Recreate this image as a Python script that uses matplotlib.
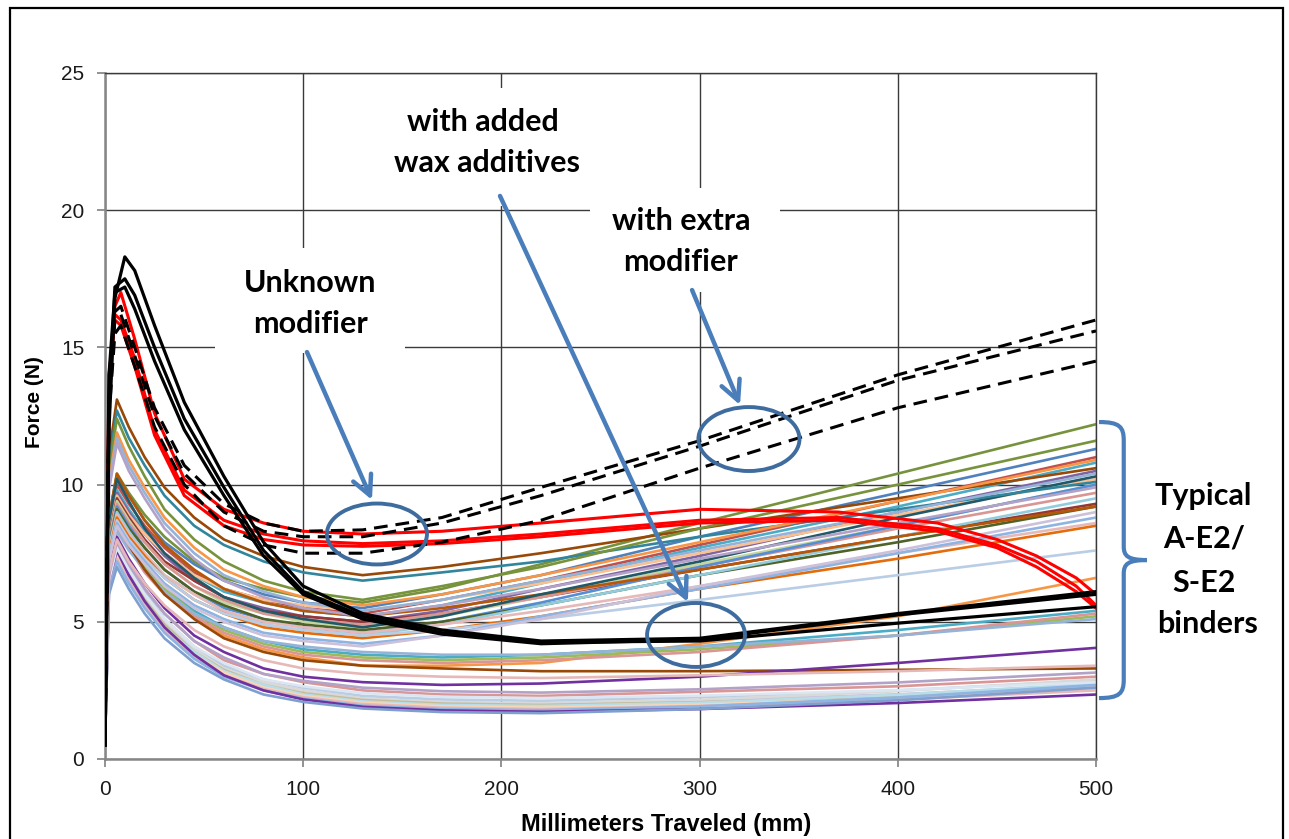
import matplotlib
matplotlib.use("Agg")
import matplotlib.pyplot as plt
from matplotlib.patches import Ellipse, Rectangle, FancyArrowPatch, PathPatch
from matplotlib.path import Path

# ---------------------------------------------------------------- data
# Force (N) versus distance travelled (mm) for each binder in the ductility test
distance_mm = [0, 2, 6, 12, 20, 30, 45, 60, 80, 100, 130, 170, 220, 300, 400, 500]

upper_binders = [
    [0.5, 11.1, 13.1, 12.1, 11.0, 9.9, 8.8, 8.0, 7.4, 7.0, 6.7, 7.0, 7.5, 8.4, 9.5, 10.6],
    [0.5, 10.8, 12.7, 11.7, 10.7, 9.6, 8.5, 7.8, 7.2, 6.8, 6.5, 6.8, 7.2, 8.1, 9.1, 10.1],
    [0.5, 10.5, 12.4, 11.4, 10.3, 9.1, 8.0, 7.2, 6.5, 6.1, 5.8, 6.3, 7.0, 8.4, 10.0, 11.6],
    [0.5, 10.1, 11.9, 10.9, 9.9, 8.8, 7.7, 6.9, 6.3, 5.9, 5.6, 6.0, 6.7, 7.9, 9.4, 10.9],
    [0.5, 9.9, 11.7, 10.7, 9.7, 8.6, 7.5, 6.7, 6.1, 5.7, 5.4, 5.8, 6.5, 7.6, 9.0, 10.4],
    [0.5, 9.8, 11.5, 10.5, 9.5, 8.4, 7.3, 6.5, 5.9, 5.5, 5.2, 5.6, 6.2, 7.3, 8.6, 9.9],
]

middle_binders = [
    [0.5, 8.8, 10.4, 9.7, 8.9, 8.1, 7.2, 6.6, 6.2, 5.9, 5.7, 6.2, 7.1, 8.6, 10.4, 12.2],
    [0.5, 8.8, 10.3, 9.6, 8.7, 7.9, 7.1, 6.5, 6.0, 5.7, 5.5, 6.0, 6.7, 8.1, 9.7, 11.3],
    [0.5, 8.5, 10.0, 9.3, 8.5, 7.7, 6.8, 6.2, 5.8, 5.5, 5.3, 5.8, 6.5, 7.8, 9.4, 11.0],
    [0.5, 8.3, 9.8, 9.1, 8.3, 7.5, 6.7, 6.1, 5.7, 5.4, 5.2, 5.6, 6.4, 7.7, 9.2, 10.8],
    [0.5, 8.2, 9.7, 9.0, 8.2, 7.4, 6.5, 5.9, 5.5, 5.2, 5.0, 5.4, 6.2, 7.4, 9.0, 10.5],
    [0.5, 8.2, 9.6, 8.9, 8.2, 7.5, 6.7, 6.2, 5.8, 5.6, 5.4, 5.8, 6.4, 7.5, 8.9, 10.2],
    [0.5, 8.1, 9.5, 8.8, 8.0, 7.2, 6.5, 5.9, 5.4, 5.2, 5.0, 5.3, 5.9, 6.9, 8.1, 9.3],
    [0.5, 8.0, 9.4, 8.7, 7.9, 7.1, 6.3, 5.7, 5.3, 5.0, 4.8, 5.2, 5.9, 7.1, 8.5, 10.0],
    [0.5, 7.9, 9.3, 8.6, 7.9, 7.1, 6.3, 5.8, 5.3, 5.1, 4.9, 5.3, 5.9, 7.0, 8.4, 9.7],
    [0.5, 7.8, 9.2, 8.5, 7.7, 6.9, 6.1, 5.5, 5.1, 4.8, 4.6, 5.0, 5.7, 7.0, 8.5, 10.0],
    [0.5, 7.7, 9.1, 8.4, 7.7, 6.9, 6.1, 5.6, 5.1, 4.9, 4.7, 5.0, 5.6, 6.7, 7.9, 9.2],
    [0.5, 7.7, 9.0, 8.3, 7.5, 6.7, 6.0, 5.4, 4.9, 4.7, 4.5, 4.9, 5.6, 6.7, 8.1, 9.5],
    [0.5, 7.6, 8.9, 8.2, 7.5, 6.7, 6.0, 5.4, 5.0, 4.8, 4.6, 4.9, 5.4, 6.3, 7.5, 8.6],
    [0.5, 7.5, 8.8, 8.1, 7.4, 6.6, 5.8, 5.3, 4.8, 4.6, 4.4, 4.7, 5.2, 6.2, 7.3, 8.5],
    [0.5, 7.4, 8.7, 8.0, 7.3, 6.6, 5.8, 5.3, 4.9, 4.7, 4.5, 4.7, 5.1, 5.8, 6.7, 7.6],
    [0.5, 7.3, 8.6, 7.9, 7.2, 6.4, 5.6, 5.1, 4.6, 4.4, 4.2, 4.5, 5.2, 6.2, 7.5, 8.8],
    [0.5, 7.2, 8.5, 7.8, 7.1, 6.3, 5.5, 5.0, 4.5, 4.3, 4.1, 4.5, 5.1, 6.3, 7.6, 9.0],
    [0.5, 8.8, 10.4, 9.6, 8.7, 7.8, 6.9, 6.2, 5.7, 5.4, 5.2, 5.5, 6.0, 6.9, 8.1, 9.2],
    [0.5, 8.7, 10.2, 9.4, 8.4, 7.5, 6.6, 5.9, 5.4, 5.1, 4.8, 5.2, 6.0, 7.2, 8.8, 10.3],
]

lower_mid_binders = [
    [0.5, 7.7, 9.0, 8.1, 7.2, 6.2, 5.2, 4.5, 4.0, 3.7, 3.4, 3.4, 3.5, 4.2, 5.2, 6.6],
    [0.5, 7.5, 8.8, 8.0, 7.2, 6.3, 5.4, 4.8, 4.3, 4.0, 3.8, 3.7, 3.8, 4.1, 4.7, 5.4],
    [0.5, 7.3, 8.6, 7.8, 7.0, 6.2, 5.3, 4.7, 4.2, 3.9, 3.7, 3.6, 3.7, 4.0, 4.5, 5.2],
    [0.5, 7.1, 8.4, 7.7, 6.8, 6.0, 5.2, 4.6, 4.1, 3.8, 3.6, 3.5, 3.6, 3.9, 4.5, 5.3],
    [0.5, 7.1, 8.3, 7.6, 6.9, 6.1, 5.3, 4.8, 4.3, 4.1, 3.9, 3.8, 3.8, 4.1, 4.5, 5.1],
    [0.5, 7.3, 8.6, 7.8, 6.9, 6.0, 5.1, 4.4, 3.9, 3.6, 3.4, 3.3, 3.2, 3.2, 3.25, 3.3],
    [0.5, 6.9, 8.1, 7.3, 6.4, 5.5, 4.5, 3.9, 3.3, 3.0, 2.8, 2.7, 2.75, 3.0, 3.5, 4.05],
    [0.5, 6.8, 8.0, 7.2, 6.4, 5.6, 4.7, 4.1, 3.6, 3.3, 3.1, 3.0, 2.95, 3.05, 3.2, 3.4],
]

low_binders = [
    [0.5, 6.8, 8.0, 7.2, 6.2, 5.3, 4.3, 3.6, 3.1, 2.8, 2.5, 2.35, 2.3, 2.45, 2.65, 3.0],
    [0.5, 6.7, 7.9, 7.0, 6.1, 5.1, 4.1, 3.4, 2.9, 2.6, 2.3, 2.17, 2.12, 2.25, 2.5, 2.85],
    [0.5, 6.6, 7.8, 6.9, 6.0, 5.0, 4.0, 3.3, 2.8, 2.5, 2.2, 2.07, 2.02, 2.13, 2.36, 2.7],
    [0.5, 6.5, 7.7, 6.8, 5.9, 5.0, 4.0, 3.3, 2.8, 2.5, 2.2, 2.07, 2.03, 2.16, 2.47, 2.9],
    [0.5, 6.5, 7.6, 6.75, 5.8, 4.9, 3.9, 3.25, 2.7, 2.4, 2.15, 2.02, 1.97, 2.07, 2.29, 2.6],
    [0.5, 6.4, 7.5, 6.7, 5.7, 4.8, 3.9, 3.2, 2.7, 2.35, 2.1, 1.97, 1.93, 2.05, 2.34, 2.75],
    [0.5, 6.4, 7.5, 6.65, 5.7, 4.8, 3.8, 3.15, 2.6, 2.3, 2.05, 1.92, 1.87, 1.98, 2.21, 2.55],
    [0.5, 6.2, 7.3, 6.5, 5.6, 4.7, 3.7, 3.05, 2.55, 2.25, 2.0, 1.87, 1.82, 1.93, 2.16, 2.5],
    [0.5, 6.1, 7.2, 6.4, 5.5, 4.6, 3.65, 3.0, 2.5, 2.2, 1.94, 1.82, 1.78, 1.92, 2.24, 2.7],
    [0.5, 6.5, 7.6, 6.7, 5.75, 4.8, 3.8, 3.05, 2.5, 2.17, 1.9, 1.77, 1.72, 1.82, 2.04, 2.35],
    [0.5, 6.0, 7.0, 6.2, 5.3, 4.4, 3.5, 2.9, 2.35, 2.08, 1.84, 1.71, 1.67, 1.82, 2.14, 2.6],
    [0.5, 6.5, 7.7, 6.9, 6.0, 5.1, 4.1, 3.5, 2.9, 2.65, 2.4, 2.27, 2.22, 2.31, 2.51, 2.8],
    [0.5, 6.7, 7.9, 7.1, 6.2, 5.3, 4.3, 3.7, 3.1, 2.85, 2.6, 2.47, 2.42, 2.54, 2.79, 3.15],
]

# binders with added wax additives (solid black)
wax_distance_mm = [0, 2, 5, 10, 15, 25, 40, 60, 80, 100, 130, 170, 220, 300, 400, 500]
wax_binders = [
    [0.5, 12.0, 16.8, 18.3, 17.8, 15.8, 13.0, 10.3, 7.9, 6.3, 5.3, 4.7, 4.3, 4.4, 5.3, 6.1],
    [0.5, 13.0, 17.2, 17.5, 16.9, 15.0, 12.4, 9.9, 7.6, 6.1, 5.2, 4.6, 4.25, 4.3, 4.95, 5.55],
    [0.5, 14.0, 17.0, 17.2, 16.4, 14.5, 12.0, 9.6, 7.4, 6.0, 5.1, 4.55, 4.2, 4.35, 5.25, 6.0],
]

# binders with an unknown modifier (red)
unknown_distance_mm = [0, 2, 5, 8, 15, 25, 40, 60, 80, 100, 130, 170, 220, 300,
                       370, 420, 450, 470, 490, 500]
unknown_binders = [
    [0.5, 13.0, 16.5, 17.0, 15.3, 12.6, 10.2, 9.1, 8.6, 8.3, 8.2, 8.3, 8.6, 9.1,
     9.0, 8.6, 8.0, 7.4, 6.6, 6.0],
    [0.5, 13.5, 16.2, 16.0, 14.6, 12.0, 9.8, 8.7, 8.2, 7.95, 7.85, 7.95, 8.2, 8.7,
     8.8, 8.4, 7.8, 7.2, 6.3, 5.6],
    [0.5, 14.0, 16.0, 15.8, 14.3, 11.8, 9.6, 8.5, 8.0, 7.8, 7.75, 7.85, 8.1, 8.6,
     8.7, 8.3, 7.7, 7.0, 6.1, 5.5],
]

# binders with an extra modifier (dashed black)
extra_distance_mm = [0, 2, 5, 8, 15, 25, 40, 60, 80, 100, 130, 170, 220, 300, 400, 500]
extra_binders = [
    [0.5, 13.0, 16.3, 16.5, 15.0, 12.8, 10.7, 9.3, 8.6, 8.3, 8.35, 8.8, 9.9, 11.6, 14.0, 16.0],
    [0.5, 13.0, 16.0, 16.2, 14.7, 12.5, 10.4, 9.0, 8.3, 8.1, 8.1, 8.6, 9.6, 11.4, 13.8, 15.6],
    [0.5, 12.5, 15.5, 15.8, 14.3, 12.1, 10.0, 8.5, 7.8, 7.5, 7.5, 7.9, 8.7, 10.6, 12.8, 14.5],
]

x_ticks = [0, 100, 200, 300, 400, 500]
y_ticks = [0, 5, 10, 15, 20, 25]

# ---------------------------------------------------------------- styles
upper_colors = ["#984807", "#31859C", "#77933C", "#F79646", "#95B3D7", "#B3A2C7"]
middle_colors = ["#76923C", "#4F81BD", "#C0504D", "#4BACC6", "#8064A2", "#FAC090",
                 "#953735", "#C3D69B", "#D99694", "#558ED5", "#4F6228", "#93CDDD",
                 "#E6B9B8", "#E46C0A", "#B9CDE5", "#8EB4E3", "#CCC1DA", "#B65708",
                 "#215968"]
lower_mid_colors = ["#F79646", "#4BACC6", "#9BBB59", "#D99694", "#95B3D7", "#984807",
                    "#7030A0", "#E6B9B8"]
low_colors = ["#D99694", "#B9CDE5", "#CCC1DA", "#D9D9D9", "#C4BD97", "#B7DEE8",
              "#FCD5B5", "#E6B9B8", "#8EB4E3", "#7030A0", "#7F9FCF", "#DCE6F2",
              "#B3A2C7"]

LABEL_FONT = ["Liberation Sans", "DejaVu Sans"]
NOTE_FONT = ["Lato", "DejaVu Sans"]
ARROW_BLUE = "#4A7EBB"
RING_BLUE = "#3F6C9E"
GRID = "#3A3A3A"

# ---------------------------------------------------------------- figure
fig = plt.figure(figsize=(12.89, 8.39), dpi=100)
ax = fig.add_axes([105 / 1289, 80 / 839, 991 / 1289, 686 / 839])

for group, colors in [(low_binders, low_colors),
                      (lower_mid_binders, lower_mid_colors),
                      (middle_binders, middle_colors),
                      (upper_binders, upper_colors)]:
    for force, color in zip(group, colors):
        ax.plot(distance_mm, force, color=color, lw=1.9, zorder=2,
                solid_joinstyle="round")

for force in unknown_binders:
    ax.plot(unknown_distance_mm, force, color="#FF0000", lw=2.2, zorder=3)
for force in extra_binders:
    ax.plot(extra_distance_mm, force, color="black", lw=2.2, zorder=3,
            dashes=(4.5, 2.6))
for force in wax_binders:
    ax.plot(wax_distance_mm, force, color="black", lw=2.3, zorder=3)

ax.set_xlim(0, 500)
ax.set_ylim(0, 25)
ax.set_xticks(x_ticks)
ax.set_yticks(y_ticks)
ax.set_axisbelow(True)
ax.grid(True, color=GRID, lw=1.0)
ax.tick_params(direction="out", length=6, width=1.2, color="#808080",
               labelsize=15, pad=9, labelcolor="#1A1A1A")
for lab in ax.get_xticklabels() + ax.get_yticklabels():
    lab.set_family(LABEL_FONT)
for side in ("left", "bottom"):
    ax.spines[side].set_color("#868686")
    ax.spines[side].set_linewidth(1.8)
for side in ("top", "right"):
    ax.spines[side].set_color(GRID)
    ax.spines[side].set_linewidth(1.0)

ax.set_xlabel("Millimeters Traveled (mm)", family=LABEL_FONT, fontsize=17,
              fontweight="bold")
ax.xaxis.set_label_coords(0.566, -0.096)
ax.xaxis.label.set_va("center")
ax.set_ylabel("Force (N)", family=LABEL_FONT, fontsize=15, fontweight="bold")
ax.yaxis.set_label_coords(-0.071, 0.52)
ax.yaxis.label.set_va("center")

# white panels behind the callout text
for x0, y0, w, h in [(55.5, 14.8, 95.9, 3.82),
                     (143.8, 20.15, 98.4, 4.3),
                     (244.7, 17.02, 95.9, 3.79)]:
    ax.add_patch(Rectangle((x0, y0), w, h, facecolor="white", edgecolor="none",
                           zorder=1.5))

notes = [("Unknown", 103.4, 17.02), ("modifier", 103.9, 15.52),
         ("with added", 190.7, 22.89), ("wax additives", 192.7, 21.39),
         ("with extra", 290.6, 19.28), ("modifier", 290.6, 17.78),
         ("Typical", 554.0, 9.26), ("A-E2/", 554.5, 7.69),
         ("S-E2", 554.5, 6.09), ("binders", 556.5, 4.59)]
for text, x, y in notes:
    ax.text(x, y, text, ha="center", va="baseline", fontsize=22,
            fontweight="bold", family=NOTE_FONT, color="black", zorder=6,
            clip_on=False)

# arrows pointing at the highlighted groups
for start, end in [((101.9, 14.83), (134.7, 9.44)),
                   ((199.3, 20.52), (294.1, 5.72)),
                   ((296.2, 17.09), (320.4, 12.90))]:
    ax.add_patch(FancyArrowPatch(start, end,
                                 arrowstyle="->,head_length=0.7,head_width=0.35",
                                 mutation_scale=20, color=ARROW_BLUE, lw=3.2,
                                 shrinkA=0, shrinkB=0, zorder=5))

for cx, cy, w, h in [(137.2, 8.20, 50.5, 2.22),
                     (298.2, 4.52, 49.4, 2.33),
                     (324.9, 11.66, 51.0, 2.33)]:
    ax.add_patch(Ellipse((cx, cy), w, h, fill=False, edgecolor=RING_BLUE,
                         lw=2.8, zorder=5))

# curly bracket grouping the typical binders
brace = Path(
    [(501.5, 12.28), (512.0, 12.28), (514.0, 12.1), (514.0, 11.6),
     (514.0, 7.75),
     (514.0, 7.4), (516.0, 7.25), (525.7, 7.25),
     (516.0, 7.25), (514.0, 7.1), (514.0, 6.75),
     (514.0, 2.9),
     (514.0, 2.4), (512.0, 2.22), (501.5, 2.22)],
    [Path.MOVETO, Path.CURVE4, Path.CURVE4, Path.CURVE4,
     Path.LINETO,
     Path.CURVE4, Path.CURVE4, Path.CURVE4,
     Path.CURVE4, Path.CURVE4, Path.CURVE4,
     Path.LINETO,
     Path.CURVE4, Path.CURVE4, Path.CURVE4])
ax.add_patch(PathPatch(brace, fill=False, edgecolor=ARROW_BLUE, lw=3.0,
                       zorder=5, clip_on=False))

# outer frame
fig.patches.append(Rectangle((10 / 1289, -0.02), 1273 / 1289, 1.02 - 8 / 839,
                             transform=fig.transFigure, fill=False,
                             edgecolor="black", lw=1.6))

fig.savefig("out.png", dpi=100, facecolor="white")
